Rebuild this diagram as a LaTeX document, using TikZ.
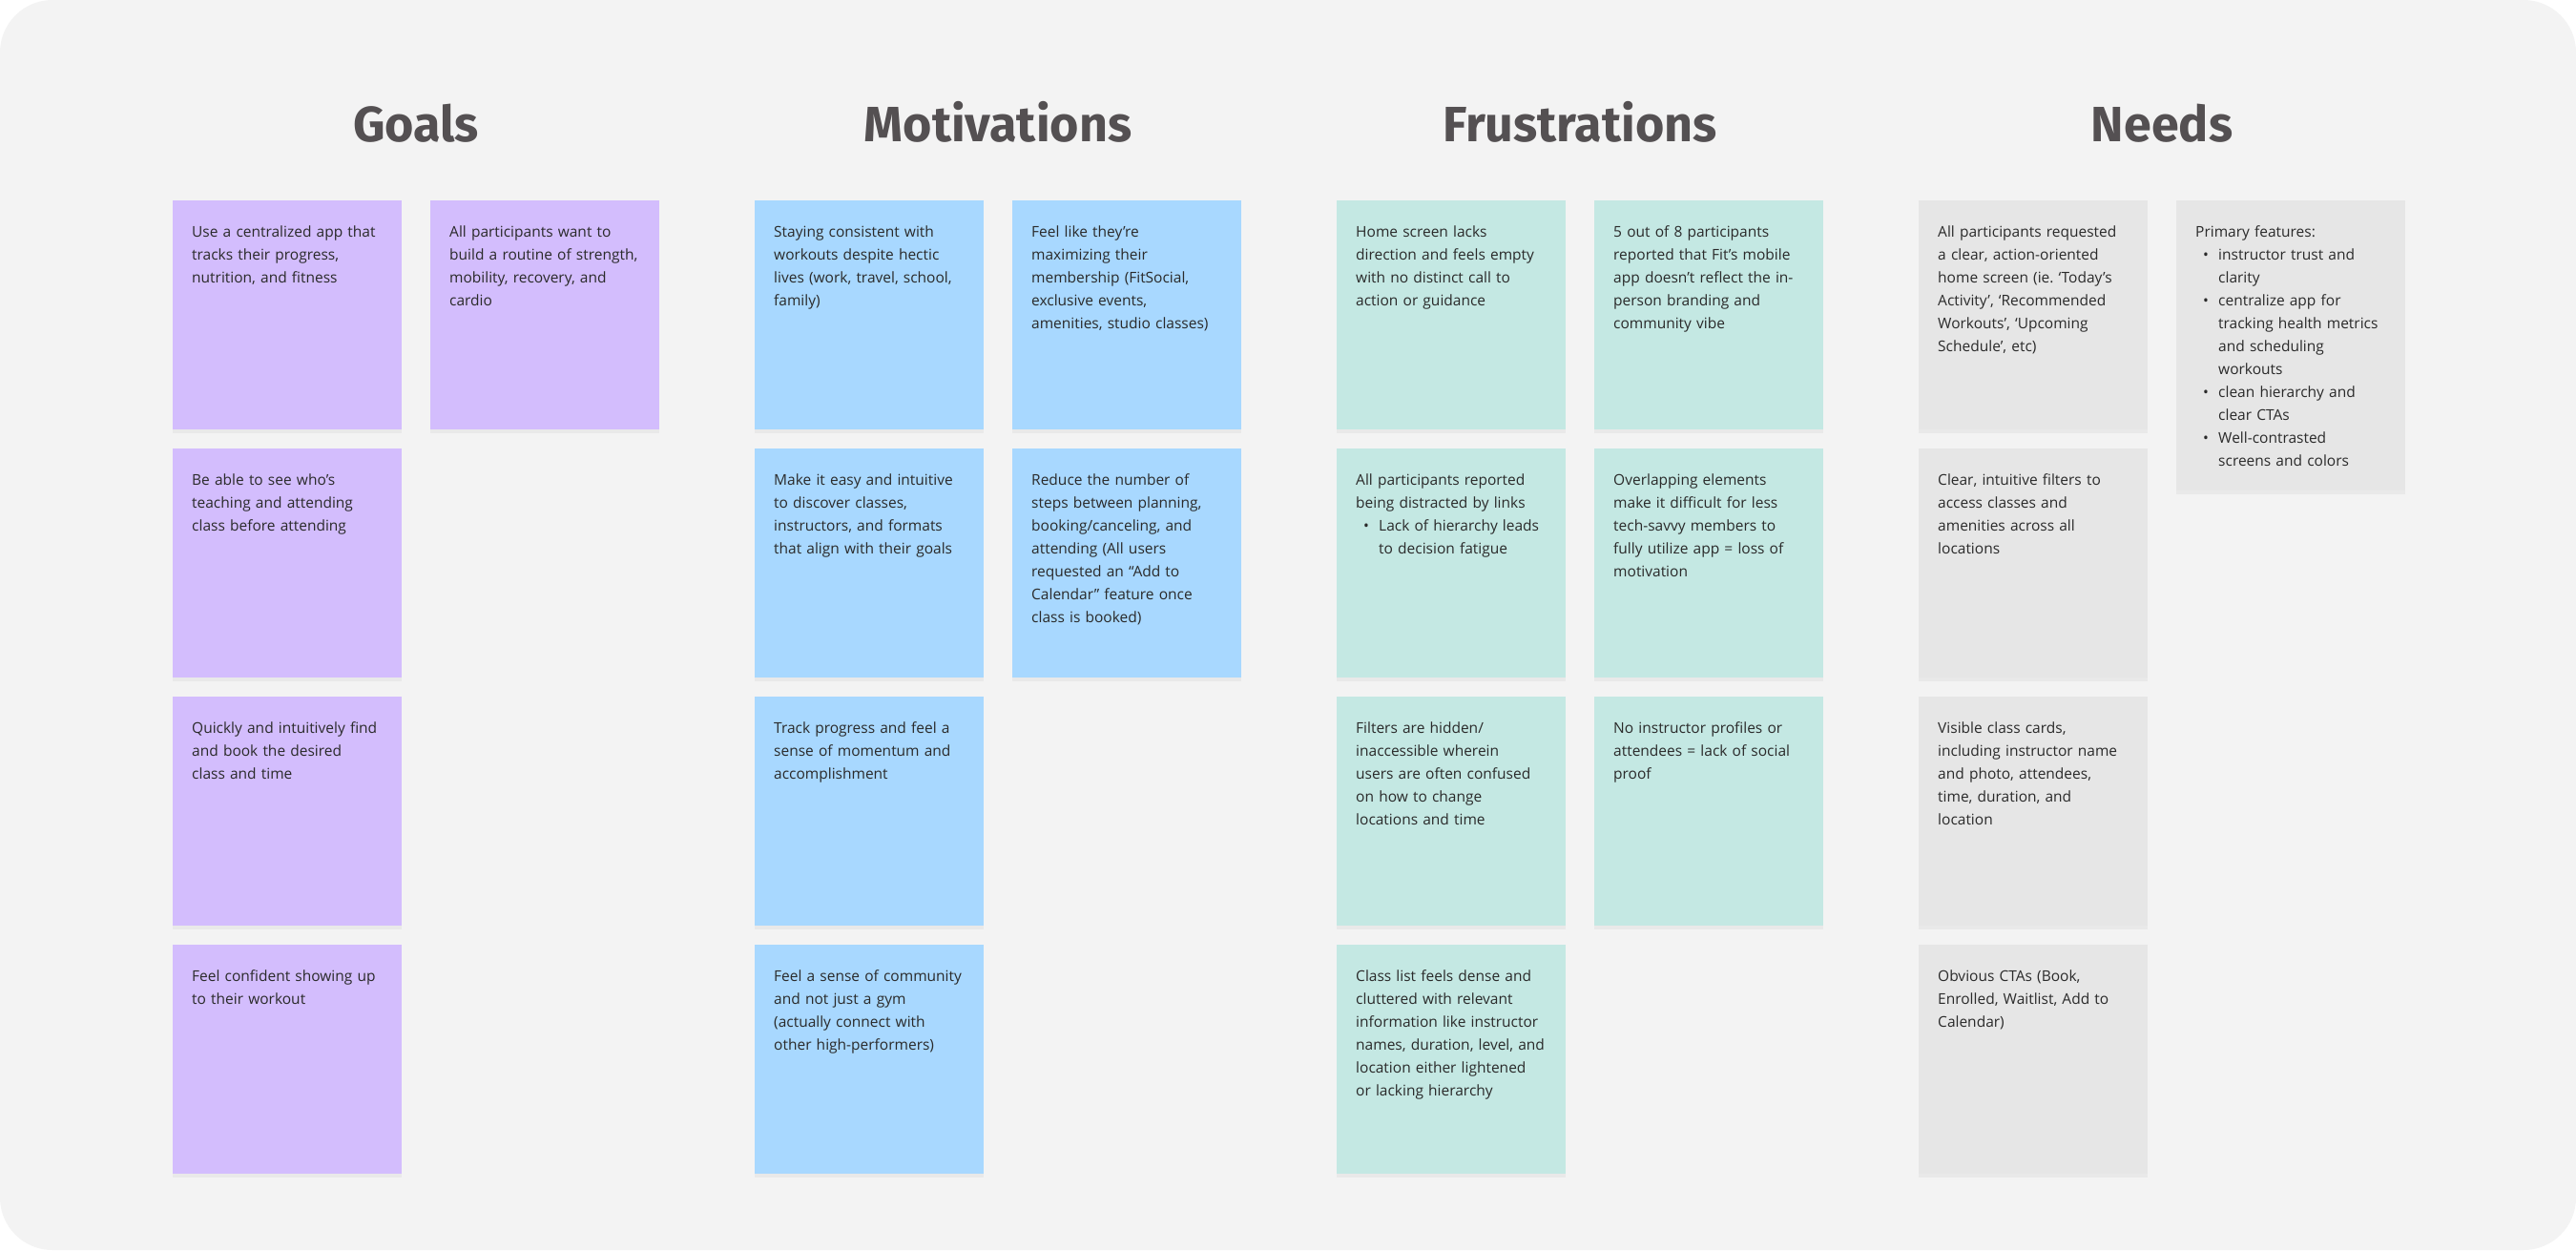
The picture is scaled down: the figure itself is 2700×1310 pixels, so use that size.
\documentclass[tikz,border=0pt]{standalone}
\usepackage{fontspec}
\setmainfont{Open Sans}
\newfontfamily\titlefont{Fira Sans}
\usetikzlibrary{shadows}
\frenchspacing

\definecolor{fond}{HTML}{F3F3F3}
\definecolor{titlegray}{HTML}{545052}
\definecolor{ink}{HTML}{2A2A2A}
\definecolor{lavender}{HTML}{D3BDFD}
\definecolor{skyblue}{HTML}{A8D8FF}
\definecolor{mint}{HTML}{C4E8E3}
\definecolor{pebble}{HTML}{E6E6E6}

\newcommand{\puce}{\makebox[24pt][l]{\hspace{8pt}\textbullet}}
\newcommand{\retrait}{\hspace*{24pt}}

\begin{document}
\begin{tikzpicture}
\tikzset{x=1pt, y=-1pt}
\tikzset{title/.style={anchor=base, text=titlegray, font=\titlefont\bfseries\fontsize{52}{56}\selectfont}}
\tikzset{postit/.style={rectangle, anchor=north west, inner xsep=20pt, inner ysep=22pt,
  text width=200pt, align=left, text height=16.6pt, text depth=179.4pt, text=ink,
  font=\fontsize{15.5}{24}\selectfont,
  drop shadow={shadow xshift=0pt, shadow yshift=-4pt, opacity=0.08}}}
\tikzset{goalnote/.style={postit, fill=lavender}}
\tikzset{motivnote/.style={postit, fill=skyblue}}
\tikzset{frustnote/.style={postit, fill=mint}}
\tikzset{neednote/.style={postit, fill=pebble}}
\useasboundingbox (0,0) rectangle (2700,1310);
\fill[white] (0,0) rectangle (2700,1310);
\fill[fond, rounded corners=55pt] (0,0) rectangle (2700,1310);
% column titles
\node[title] (T1) at (436,148) {Goals};
\node[title] (T2) at (1046,148) {Motivations};
\node[title] (T3) at (1656,148) {Frustrations};
\node[title] (T4) at (2266,148) {Needs};
% goals
\node[goalnote] (G1) at (181,210) {Use a centralized app that\\tracks their progress,\\nutrition, and fitness};
\node[goalnote] (G2) at (451,210) {All participants want to\\build a routine of strength,\\mobility, recovery, and\\cardio};
\node[goalnote] (G3) at (181,470) {Be able to see who’s\\teaching and attending\\class before attending};
\node[goalnote] (G4) at (181,730) {Quickly and intuitively find\\and book the desired\\class and time};
\node[goalnote] (G5) at (181,990) {Feel confident showing up\\to their workout};
% motivations
\node[motivnote] (M1) at (791,210) {Staying consistent with\\workouts despite hectic\\lives (work, travel, school,\\family)};
\node[motivnote] (M2) at (1061,210) {Feel like they’re\\maximizing their\\membership (FitSocial,\\exclusive events,\\amenities, studio classes)};
\node[motivnote] (M3) at (791,470) {Make it easy and intuitive\\to discover classes,\\instructors, and formats\\that align with their goals};
\node[motivnote] (M4) at (1061,470) {Reduce the number of\\steps between planning,\\booking/canceling, and\\attending (All users\\requested an “Add to\\Calendar” feature once\\class is booked)};
\node[motivnote] (M5) at (791,730) {Track progress and feel a\\sense of momentum and\\accomplishment};
\node[motivnote] (M6) at (791,990) {Feel a sense of community\\and not just a gym\\(actually connect with\\other high-performers)};
% frustrations
\node[frustnote] (F1) at (1401,210) {Home screen lacks\\direction and feels empty\\with no distinct call to\\action or guidance};
\node[frustnote] (F2) at (1671,210) {5 out of 8 participants\\reported that Fit’s mobile\\app doesn’t reflect the in-\\person branding and\\community vibe};
\node[frustnote] (F3) at (1401,470) {All participants reported\\being distracted by links\\\puce Lack of hierarchy leads\\\retrait to decision fatigue};
\node[frustnote] (F4) at (1671,470) {Overlapping elements\\make it difficult for less\\tech-savvy members to\\fully utilize app = loss of\\motivation};
\node[frustnote] (F5) at (1401,730) {Filters are hidden/\\inaccessible wherein\\users are often confused\\on how to change\\locations and time};
\node[frustnote] (F6) at (1671,730) {No instructor profiles or\\attendees = lack of social\\proof};
\node[frustnote] (F7) at (1401,990) {Class list feels dense and\\cluttered with relevant\\information like instructor\\names, duration, level, and\\location either lightened\\or lacking hierarchy};
% needs
\node[neednote] (N1) at (2011,210) {All participants requested\\a clear, action-oriented\\home screen (ie. ‘Today’s\\Activity’, ‘Recommended\\Workouts’, ‘Upcoming\\Schedule’, etc)};
\node[neednote, text depth=243.4pt] (N2) at (2281,210) {Primary features:\\\puce instructor trust and\\\retrait clarity\\\puce centralize app for\\\retrait tracking health metrics\\\retrait and scheduling\\\retrait workouts\\\puce clean hierarchy and\\\retrait clear CTAs\\\puce Well-contrasted\\\retrait screens and colors};
\node[neednote] (N3) at (2011,470) {Clear, intuitive filters to\\access classes and\\amenities across all\\locations};
\node[neednote] (N4) at (2011,730) {Visible class cards,\\including instructor name\\and photo, attendees,\\time, duration, and\\location};
\node[neednote] (N5) at (2011,990) {Obvious CTAs (Book,\\Enrolled, Waitlist, Add to\\Calendar)};
\end{tikzpicture}
\end{document}
